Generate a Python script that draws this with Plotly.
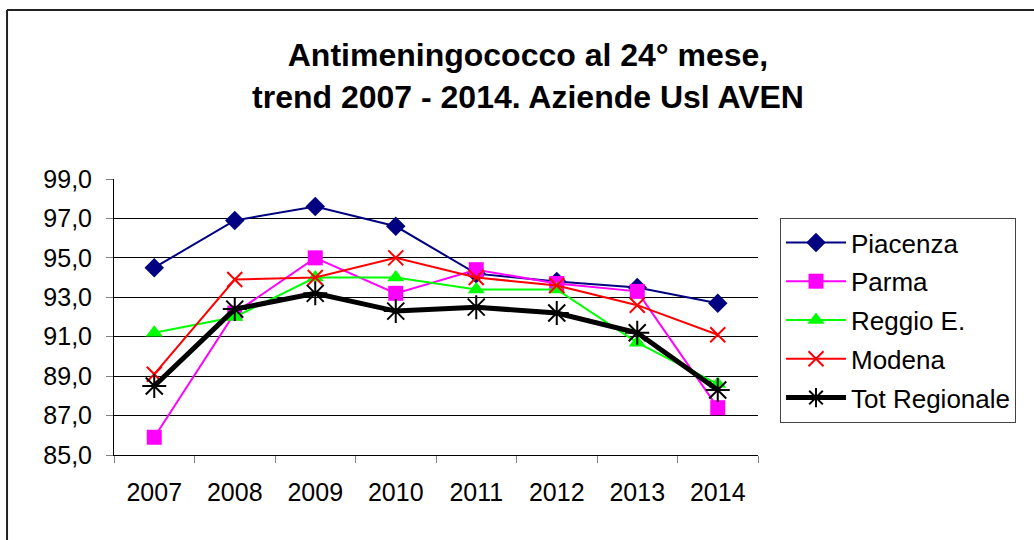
import plotly.graph_objects as go

years = ["2007", "2008", "2009", "2010", "2011", "2012", "2013", "2014"]

piacenza = [94.5, 96.9, 97.6, 96.6, 94.2, 93.8, 93.5, 92.7]
parma = [85.9, 92.2, 95.0, 93.2, 94.4, 93.7, 93.3, 87.4]
reggio = [91.2, 92.0, 94.0, 94.0, 93.4, 93.4, 90.7, 88.6]
modena = [89.1, 93.9, 94.0, 95.0, 94.0, 93.6, 92.6, 91.1]
tot_regionale = [88.5, 92.4, 93.2, 92.3, 92.5, 92.2, 91.2, 88.3]

FONT = "Liberation Sans, Arial, sans-serif"

series = [
    ("Piacenza", piacenza, "#000080", 2, dict(symbol="diamond", size=15)),
    ("Parma", parma, "#FF00FF", 2, dict(symbol="square", size=15)),
    ("Reggio E.", reggio, "#00FF00", 2, dict(symbol="triangle-up", size=15)),
    ("Modena", modena, "#FF0000", 2,
     dict(symbol="x-thin", size=15, line=dict(color="#FF0000", width=2))),
    ("Tot Regionale", tot_regionale, "#000000", 5,
     dict(symbol="asterisk", size=20, line=dict(color="#000000", width=2))),
]

fig = go.Figure()
for name, vals, color, width, marker in series:
    fig.add_trace(go.Scatter(
        x=years, y=vals, name=name, mode="lines+markers",
        line=dict(color=color, width=width),
        marker=dict(color=color, **marker),
        legendgroup=name,
    ))

# outer chart frame: only the top and left edges fall inside the page
frame = dict(color="#222222", width=2)
fig.add_shape(type="line", xref="paper", yref="paper",
              x0=-0.1661, x1=1.6, y0=1.6123, y1=1.6123, line=frame)
fig.add_shape(type="line", xref="paper", yref="paper",
              x0=-0.1661, x1=-0.1661, y0=-0.5, y1=1.6123, line=frame)

fig.update_layout(
    width=1034, height=540,
    margin=dict(l=114, r=276, t=179, b=85),
    paper_bgcolor="white", plot_bgcolor="white",
    separators=",.",
    font=dict(family=FONT, size=24, color="#000000"),
    title=dict(
        text="<b>Antimeningococco al 24° mese,<br>trend 2007 - 2014. Aziende Usl AVEN</b>",
        x=528 / 1034, xref="container", xanchor="center",
        y=1 - 66 / 540, yref="container", yanchor="middle",
        font=dict(family=FONT, size=32, color="#000000"),
    ),
    showlegend=True,
    legend=dict(
        x=(780 - 114) / 644, y=(455 - 218) / 276, xanchor="left", yanchor="top",
        bordercolor="#444444", borderwidth=1,
        font=dict(family=FONT, size=26, color="#000000"),
        traceorder="grouped", tracegroupgap=2,
        itemwidth=60,
    ),
)

fig.update_xaxes(
    type="category", range=[-0.5, 7.5],
    showline=True, linecolor="#000000", linewidth=1,
    ticks="outside", tickson="boundaries", ticklen=7, tickcolor="#808080",
    showgrid=False, zeroline=False,
    ticklabelstandoff=15,
    tickfont=dict(family=FONT, size=25, color="#000000"),
)
fig.update_yaxes(
    range=[85, 99], dtick=2, tick0=85, tickformat=".1f",
    showline=True, linecolor="#000000", linewidth=1,
    ticks="outside", ticklen=7, tickcolor="#808080",
    showgrid=True, gridcolor="#000000", gridwidth=1,
    zeroline=False,
    ticklabelstandoff=9,
    tickfont=dict(family=FONT, size=25, color="#000000"),
)

fig.write_html("out.html")
